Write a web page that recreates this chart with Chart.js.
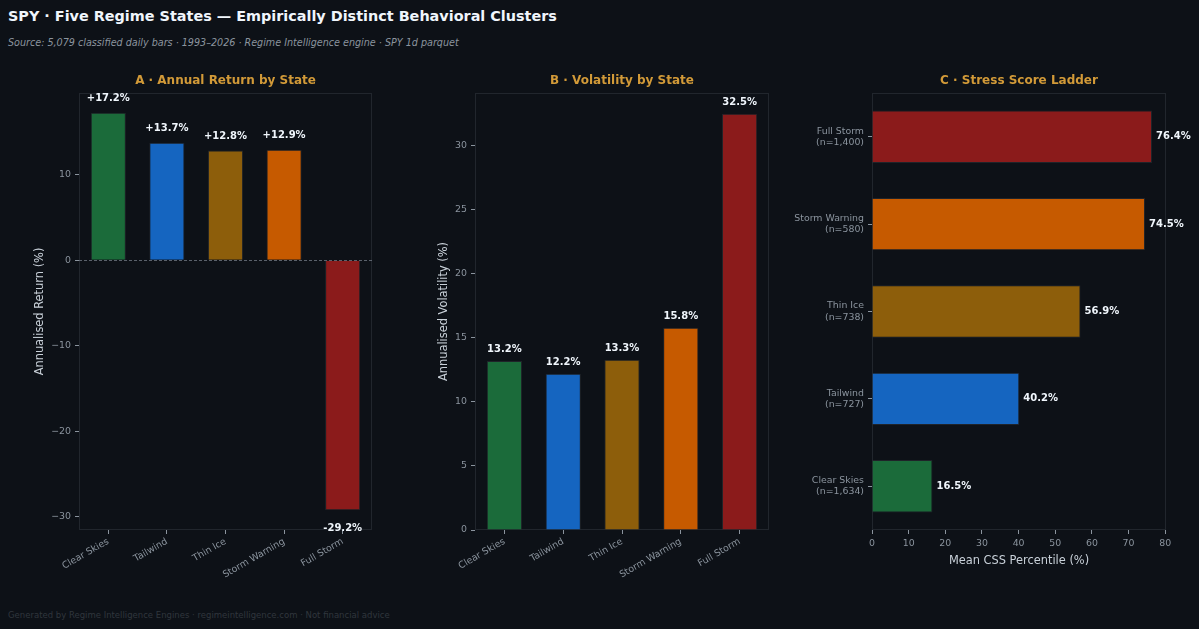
<!DOCTYPE html>
<html><head><meta charset="utf-8">
<script src="https://cdn.jsdelivr.net/npm/chart.js@4.4.1/dist/chart.umd.min.js"></script>
<style>
html,body{margin:0;padding:0;background:#0d1117;width:1199px;height:629px;overflow:hidden;font-family:'DejaVu Sans',sans-serif}
#title{position:absolute;left:8px;top:7px;font-weight:bold;font-size:14.4px;line-height:18px;color:#f0f6fc;white-space:nowrap}
#sub{position:absolute;left:8px;top:37px;font-style:italic;font-size:9.6px;line-height:12px;color:#8b949e;white-space:nowrap}
#foot{position:absolute;left:8px;top:609px;font-size:8.5px;line-height:12px;color:#30363d;white-space:nowrap}
canvas{position:absolute;top:0}
</style></head>
<body>
<div id="title">SPY · Five Regime States — Empirically Distinct Behavioral Clusters</div>
<div id="sub">Source: 5,079 classified daily bars · 1993–2026 · Regime Intelligence engine · SPY 1d parquet</div>
<div id="foot">Generated by Regime Intelligence Engines · regimeintelligence.com · Not financial advice</div>
<canvas id="cA" width="400" height="629" style="left:0px"></canvas>
<canvas id="cB" width="390" height="629" style="left:400px"></canvas>
<canvas id="cC" width="409" height="629" style="left:790px"></canvas>
<script>
// ---- data ----
const states = ['Clear Skies', 'Tailwind', 'Thin Ice', 'Storm Warning', 'Full Storm'];
const annualReturn = [17.2, 13.7, 12.8, 12.9, -29.2];
const volatility = [13.2, 12.2, 13.3, 15.8, 32.5];
const stressScore = [16.5, 40.2, 56.9, 74.5, 76.4];
const sampleCounts = [1634, 727, 738, 580, 1400];
const returnTicks = [-30, -20, -10, 0, 10];
const volTicks = [0, 5, 10, 15, 20, 25, 30];
const stressTicks = [0, 10, 20, 30, 40, 50, 60, 70, 80];

// ---- styles ----
const stateColors = ['#1b6b3a', '#1565c0', '#8d5e0b', '#c65a00', '#8b1b1b'];
const FONT = "'DejaVu Sans', sans-serif";
const TICKLBL = '#8b949e';
const TICKMARK = '#8b949e';
const AXTITLE = '#c9d1d9';
const FRAME = '#21262d';
const GOLD = '#d29a38';
const VALCOL = '#f0f6fc';
const BAREDGE = 'rgba(255,255,255,0.08)';

function minus(v) { return v < 0 ? '\u2212' + Math.abs(v) : String(v); }
function mplLimits(vals, sticky) {
  let lo = Math.min(0, ...vals), hi = Math.max(0, ...vals);
  const r = hi - lo;
  return { min: (sticky && lo === 0) ? 0 : lo - 0.05 * r, max: hi + 0.05 * r };
}

const decor = {
  id: 'decor',
  beforeDatasetsDraw(chart, args, o) {
    const { ctx, chartArea: a } = chart;
    ctx.save();
    ctx.strokeStyle = FRAME; ctx.lineWidth = 1;
    ctx.strokeRect(a.left + 0.5, a.top + 0.5, a.right - a.left - 1, a.bottom - a.top - 1);
    ctx.restore();
  },
  afterDatasetsDraw(chart, args, o) {
    const { ctx, chartArea: a } = chart;
    ctx.save();
    ctx.fillStyle = GOLD;
    ctx.font = "bold 12px " + FONT;
    ctx.textAlign = 'center'; ctx.textBaseline = 'middle';
    ctx.fillText(o.title, (a.left + a.right) / 2, 80.5);
    if (o.zeroLine) {
      const y = Math.round(chart.scales.y.getPixelForValue(0)) + 0.5;
      ctx.strokeStyle = '#6e7681'; ctx.lineWidth = 0.8; ctx.setLineDash([3, 2]);
      ctx.beginPath(); ctx.moveTo(a.left, y); ctx.lineTo(a.right, y); ctx.stroke();
      ctx.setLineDash([]);
    }
    const meta = chart.getDatasetMeta(0);
    const vals = chart.data.datasets[0].data;
    ctx.fillStyle = VALCOL;
    ctx.font = "bold 10px " + FONT;
    meta.data.forEach((el, i) => {
      const v = vals[i];
      const txt = o.fmt(v);
      if (o.horizontal) {
        ctx.textAlign = 'left'; ctx.textBaseline = 'middle';
        ctx.fillText(txt, el.x + 4, el.y);
      } else {
        ctx.textAlign = 'center'; ctx.textBaseline = 'middle';
        ctx.fillText(txt, el.x, v >= 0 ? el.y - o.posOff : el.y + o.negOff);
      }
    });
    ctx.restore();
  }
};

function tickFont() { return { family: FONT, size: 9.4 }; }
function gridOpts(offset) {
  return { display: true, drawOnChartArea: false, drawTicks: true, tickLength: 4, tickWidth: 1, tickColor: TICKMARK, offset: offset };
}
function fixedTicks(list) {
  return function (scale) { scale.ticks = list.map(v => ({ value: v })); };
}
function barSet(values) {
  return { data: values, backgroundColor: stateColors, borderColor: BAREDGE, borderWidth: 1, categoryPercentage: 1, barPercentage: 0.6 };
}

// ---- Panel A ----
const limA = mplLimits(annualReturn, false);
new Chart(document.getElementById('cA'), {
  type: 'bar',
  data: { labels: states, datasets: [barSet(annualReturn)] },
  options: {
    responsive: false, animation: false, devicePixelRatio: 1,
    layout: { padding: { left: 0, right: 28, top: 93, bottom: 0 } },
    plugins: { legend: { display: false }, tooltip: { enabled: false },
      decor: { title: 'A · Annual Return by State', zeroLine: true, posOff: 14.5, negOff: 18, fmt: v => (v >= 0 ? '+' : '') + v.toFixed(1) + '%' } },
    scales: {
      x: { grid: gridOpts(false), border: { display: false },
        ticks: { color: TICKLBL, font: tickFont(), minRotation: 30, maxRotation: 30, padding: 2, autoSkip: false },
        afterFit: s => { s.height = 99; } },
      y: { min: limA.min, max: limA.max, grid: gridOpts(false), border: { display: false },
        afterBuildTicks: fixedTicks(returnTicks),
        ticks: { color: TICKLBL, font: tickFont(), padding: 4, callback: v => minus(v) },
        title: { display: true, text: 'Annualised Return (%)', color: AXTITLE, font: { family: FONT, size: 11.4 }, padding: { top: 33, bottom: 0 } },
        afterFit: s => { s.width = 79; } }
    }
  },
  plugins: [decor]
});

// ---- Panel B ----
const limB = mplLimits(volatility, true);
new Chart(document.getElementById('cB'), {
  type: 'bar',
  data: { labels: states, datasets: [barSet(volatility)] },
  options: {
    responsive: false, animation: false, devicePixelRatio: 1,
    layout: { padding: { left: 0, right: 21, top: 93, bottom: 0 } },
    plugins: { legend: { display: false }, tooltip: { enabled: false },
      decor: { title: 'B · Volatility by State', zeroLine: false, posOff: 11.5, negOff: 12, fmt: v => v.toFixed(1) + '%' } },
    scales: {
      x: { grid: gridOpts(false), border: { display: false },
        ticks: { color: TICKLBL, font: tickFont(), minRotation: 30, maxRotation: 30, padding: 2, autoSkip: false },
        afterFit: s => { s.height = 99; } },
      y: { min: limB.min, max: limB.max, grid: gridOpts(false), border: { display: false },
        afterBuildTicks: fixedTicks(volTicks),
        ticks: { color: TICKLBL, font: tickFont(), padding: 4, callback: v => minus(v) },
        title: { display: true, text: 'Annualised Volatility (%)', color: AXTITLE, font: { family: FONT, size: 11.4 }, padding: { top: 37, bottom: 0 } },
        afterFit: s => { s.width = 75; } }
    }
  },
  plugins: [decor]
});

// ---- Panel C ----
const limC = mplLimits(stressScore, true);
const stressLabels = states.map((s, i) => [s, '(n=' + sampleCounts[i].toLocaleString('en-US') + ')']);
new Chart(document.getElementById('cC'), {
  type: 'bar',
  data: { labels: stressLabels, datasets: [barSet(stressScore)] },
  options: {
    indexAxis: 'y',
    responsive: false, animation: false, devicePixelRatio: 1,
    layout: { padding: { left: 0, right: 33, top: 93, bottom: 0 } },
    plugins: { legend: { display: false }, tooltip: { enabled: false },
      decor: { title: 'C · Stress Score Ladder', zeroLine: false, horizontal: true, fmt: v => v.toFixed(1) + '%' } },
    scales: {
      x: { min: limC.min, max: limC.max, grid: gridOpts(false), border: { display: false },
        afterBuildTicks: fixedTicks(stressTicks),
        ticks: { color: TICKLBL, font: tickFont(), padding: 4, maxRotation: 0 },
        title: { display: true, text: 'Mean CSS Percentile (%)', color: AXTITLE, font: { family: FONT, size: 11.4 }, padding: { top: 0, bottom: 61 } },
        afterFit: s => { s.height = 99; } },
      y: { reverse: true, grid: gridOpts(false), border: { display: false },
        ticks: { color: TICKLBL, font: tickFont(), padding: 4, autoSkip: false },
        afterFit: s => { s.width = 82; } }
    }
  },
  plugins: [decor]
});
</script>
</body></html>
